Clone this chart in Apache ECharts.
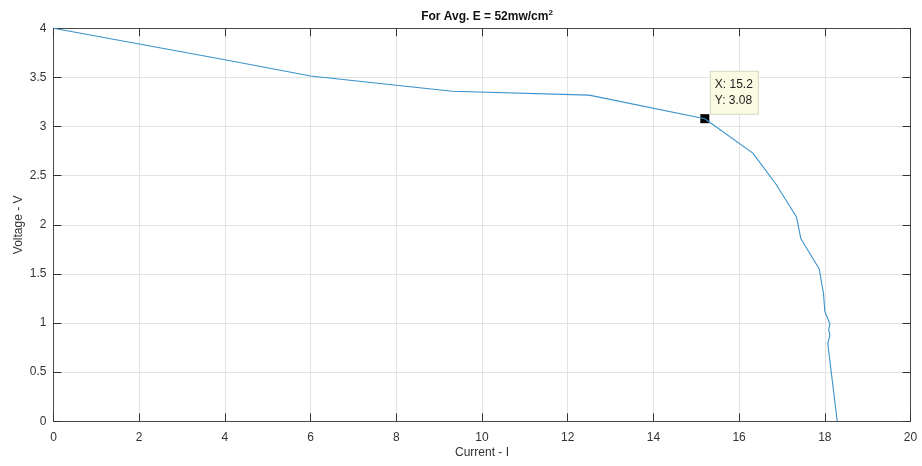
<!DOCTYPE html>
<html><head><meta charset="utf-8">
<script src="https://cdn.jsdelivr.net/npm/echarts@6/dist/echarts.min.js"></script>
<style>html,body{margin:0;padding:0;background:#fff}#c{width:922px;height:466px}</style>
</head><body><div id="c"></div>
<script>
const current = [0, 2, 4, 6, 8, 9.3, 12.5, 15.2, 16.32, 16.85, 17.34, 17.44, 17.87, 17.97, 18.0, 18.12, 18.09, 18.12, 18.07, 18.29];
const voltage = [4, 3.84, 3.68, 3.515, 3.42, 3.36, 3.32, 3.08, 2.73, 2.42, 2.08, 1.86, 1.55, 1.3, 1.12, 0.99, 0.93, 0.88, 0.79, 0];
const tipPoint = [15.2, 3.08];
const titleText = 'For Avg. E = 52mw/cm';
const xName = 'Current - I';
const yName = 'Voltage - V';

const font = 'Liberation Sans, Arial, sans-serif';
const axisColor = '#4a4a4a';
const gridColor = '#e3e3e3';
const chart = echarts.init(document.getElementById('c'));
const baseAxis = {
  axisLine: {show: true, onZero: false, lineStyle: {color: axisColor, width: 1}},
  axisTick: {show: true, inside: true, length: 8, lineStyle: {color: '#333', width: 1}},
  axisLabel: {color: '#333', fontFamily: font, fontSize: 12},
  splitLine: {show: false}
};
chart.setOption({
  backgroundColor: '#fff',
  animation: false,
  title: {text: '{t|' + titleText + '}{s|2}', left: 482, top: 4, textAlign: 'center',
    textStyle: {rich: {
      t: {fontFamily: font, fontSize: 12, fontWeight: 'bold', color: '#111', verticalAlign: 'bottom'},
      s: {fontFamily: font, fontSize: 8, fontWeight: 'bold', color: '#111', verticalAlign: 'top', padding: [0, 0, 6, 0]}
    }}},
  grid: {left: 53.5, right: 11.5, top: 28.3, bottom: 44.7, containLabel: false},
  xAxis: [
    Object.assign({}, baseAxis, {type: 'value', min: 0, max: 20, interval: 2, position: 'bottom',
      name: xName, nameLocation: 'middle', nameGap: 25, nameMoveOverlap: false,
      nameTextStyle: {fontFamily: font, fontSize: 12, color: '#333'},
      axisLabel: {color: '#333', fontFamily: font, fontSize: 12, margin: 10},
      splitLine: {show: true, lineStyle: {color: gridColor, width: 1}}}),
    Object.assign({}, baseAxis, {type: 'value', min: 0, max: 20, interval: 2, position: 'top',
      axisLabel: {show: false}})
  ],
  yAxis: [
    Object.assign({}, baseAxis, {type: 'value', min: 0, max: 4, interval: 0.5, position: 'left',
      name: yName, nameLocation: 'middle', nameGap: 29, nameMoveOverlap: false,
      nameTextStyle: {fontFamily: font, fontSize: 12, color: '#333'},
      axisLabel: {color: '#333', fontFamily: font, fontSize: 12, margin: 7},
      splitLine: {show: true, lineStyle: {color: gridColor, width: 1}}}),
    Object.assign({}, baseAxis, {type: 'value', min: 0, max: 4, interval: 0.5, position: 'right',
      axisLabel: {show: false}})
  ],
  series: [
    {type: 'line', xAxisIndex: 0, yAxisIndex: 0, showSymbol: false, symbol: 'none',
      data: current.map((x, i) => [x, voltage[i]]),
      lineStyle: {color: '#3a92cc', width: 1.1}},
    {type: 'scatter', xAxisIndex: 0, yAxisIndex: 0, symbol: 'rect', symbolSize: 9,
      itemStyle: {color: '#000', opacity: 1},
      data: [tipPoint],
      label: {show: true, position: [10.5, -42.5],
        formatter: () => 'X: ' + tipPoint[0] + '\nY: ' + tipPoint[1],
        fontFamily: font, fontSize: 12, color: '#222', lineHeight: 16,
        backgroundColor: '#fbfbe4', borderColor: '#d6d6bf', borderWidth: 1,
        padding: [5, 5, 5, 4], align: 'left', verticalAlign: 'top'}}
  ]
});
</script></body></html>
